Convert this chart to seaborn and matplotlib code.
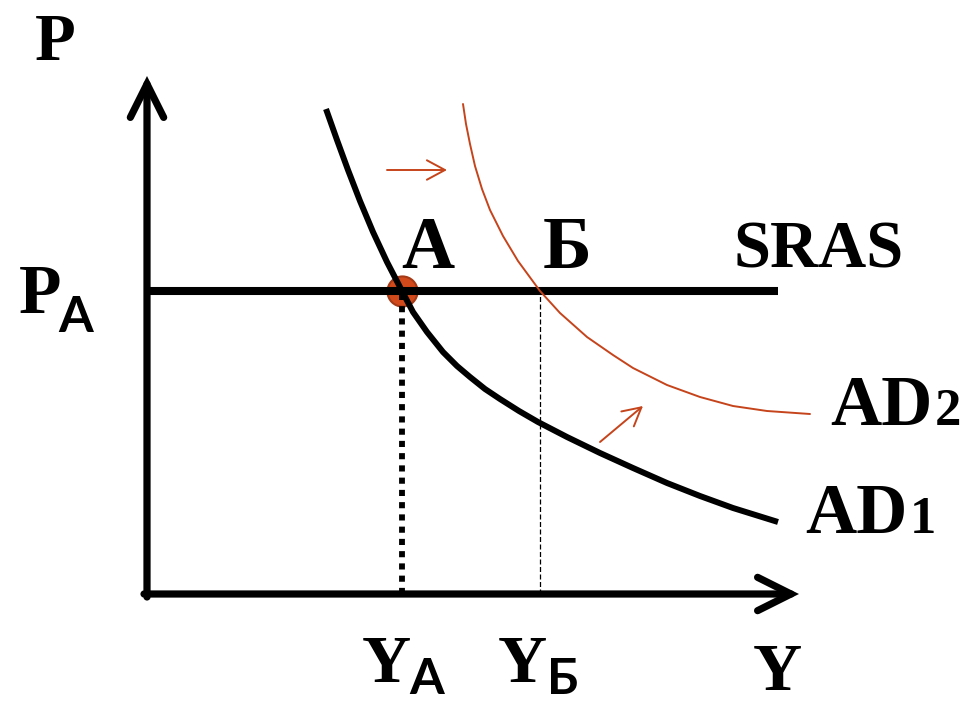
import matplotlib
matplotlib.use("Agg")
import matplotlib.pyplot as plt
import numpy as np
import pandas as pd
import seaborn as sns

# values (output Y, price level P; origin at the axes corner)
ad1_output = [179, 190, 201, 213, 226, 240, 255, 266, 280, 296, 310, 323, 338, 353, 372, 391,
              420, 453, 486, 520, 553, 586, 631]
ad1_price = [485, 454, 424, 393, 362, 332, 303, 282, 262, 242, 228, 217, 205, 195, 183, 172,
             157, 141, 126, 111, 98, 86, 72]

ad2_output = [316, 319, 323, 328, 335, 343, 356, 371, 393, 413, 440, 466, 486, 520, 553, 586, 620, 663]
ad2_price = [490, 470, 450, 428, 405, 384, 358, 333, 303, 281, 257, 239, 226, 209, 197, 188, 183, 180]

price_a = 303      # P_A, level of SRAS
output_a = 255     # Y_A
output_b = 393     # Y_Б
sras_end = 631
y_axis_top = 518
x_axis_end = 652

shift_flat = [(240, 424), (300, 424)]
shift_diag = [(453, 152), (496, 188)]

ORANGE = "#C5441B"
SERIF = ["Liberation Serif", "DejaVu Serif"]
SANS = ["Lato", "Liberation Sans", "DejaVu Sans"]

sns.set_theme(style="white")
plt.rcParams["font.family"] = SERIF

fig = plt.figure(figsize=(9.65, 7.03), dpi=100)
ax = fig.add_axes([0, 0, 1, 1])
ax.set_xlim(-147, 818)
ax.set_ylim(-109, 594)
ax.axis("off")

# axes with open arrow heads
axis_arrow = dict(arrowstyle="->,head_length=1.2,head_width=0.6", lw=5.2, color="black",
                  mutation_scale=20, capstyle="round", joinstyle="miter", shrinkA=0, shrinkB=0)
ax.annotate("", xy=(0, y_axis_top), xytext=(0, -3), arrowprops=axis_arrow)
ax.annotate("", xy=(x_axis_end, 0), xytext=(-3, 0), arrowprops=axis_arrow)

# guide lines down to the output axis
line_kw = dict(ax=ax, estimator=None, sort=False, legend=False)
guide_a = pd.DataFrame({"Y": [output_a, output_a], "P": [0, price_a]})
sns.lineplot(data=guide_a, x="Y", y="P", color="black", lw=4.2,
             linestyle=(0, (1.05, 1.05)), **line_kw)
guide_b = pd.DataFrame({"Y": [output_b, output_b], "P": [0, price_a]})
sns.lineplot(data=guide_b, x="Y", y="P", color="black", lw=0.9,
             linestyle=(0, (4, 2)), **line_kw)

# curves
sras = pd.DataFrame({"Y": [0, sras_end], "P": [price_a, price_a]})
sns.lineplot(data=sras, x="Y", y="P", color="black", lw=5.8,
             solid_capstyle="butt", **line_kw)

ad1 = pd.DataFrame({"Y": ad1_output, "P": ad1_price})
sns.lineplot(data=ad1, x="Y", y="P", color="black", lw=4.3,
             solid_joinstyle="round", solid_capstyle="butt", **line_kw)

ad2 = pd.DataFrame({"Y": ad2_output, "P": ad2_price})
sns.lineplot(data=ad2, x="Y", y="P", color=ORANGE, lw=1.4,
             solid_joinstyle="round", **line_kw)

sns.scatterplot(x=[output_a], y=[price_a], ax=ax, s=470, color="#D24A1B",
                edgecolor="#A53A17", linewidth=1.5, zorder=1)

# shift arrows
small_arrow = dict(arrowstyle="->,head_length=1.3,head_width=0.7", lw=1.4, color=ORANGE,
                   mutation_scale=10, shrinkA=0, shrinkB=0)
for start, end in (shift_flat, shift_diag):
    ax.annotate("", xy=end, xytext=start, arrowprops=small_arrow)

# labels
bold = dict(fontweight="bold", color="black", va="baseline")
ax.text(-92, 534, "P", fontsize=48, ha="center", **bold)
ax.text(-107, 281, "P", fontsize=50, ha="center", **bold)
ax.text(-71, 262, "A", fontsize=36, ha="center", family=SANS, **bold)
ax.text(281, 326, "A", fontsize=53, ha="center", **bold)
ax.text(420, 326, "Б", fontsize=53, ha="center", **bold)
ax.text(672, 327, "SRAS", fontsize=48, ha="center", **bold)
ax.text(683, 169, "AD", fontsize=51, ha="left", **bold)
ax.text(788, 169, "2", fontsize=38, ha="left", **bold)
ax.text(658, 61, "AD", fontsize=51, ha="left", **bold)
ax.text(763, 61, "1", fontsize=38, ha="left", **bold)
ax.text(239, -88, "Y", fontsize=49, ha="center", **bold)
ax.text(280, -100, "A", fontsize=36, ha="center", family=SANS, **bold)
ax.text(375, -88, "Y", fontsize=49, ha="center", **bold)
ax.text(416, -100, "Б", fontsize=36, ha="center", family=SANS, **bold)
ax.text(630, -96, "Y", fontsize=49, ha="center", **bold)

fig.savefig("out.png", dpi=100)
